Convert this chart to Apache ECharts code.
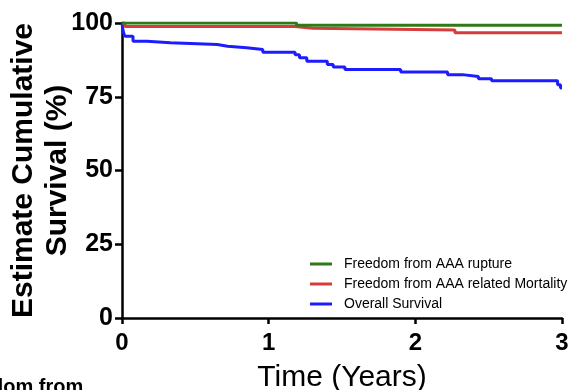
<!DOCTYPE html>
<html>
<head>
<meta charset="utf-8">
<script src="https://cdn.jsdelivr.net/npm/echarts@6/dist/echarts.min.js"></script>
<style>html,body{margin:0;padding:0;background:#fff;}#c{width:572px;height:390px;}</style>
</head>
<body>
<div id="c"></div>
<script>
// Kaplan-Meier style step data: [time (years), survival %]
const ruptureData = [[0,100],[1.19,99.2],[3,99.2]];
const aaaMortalityData = [[0,100],[0.02,98.8],[1.18,98.2],[1.30,97.6],[2.27,96.7],[3,96.7]];
const overallData = [[0,100],[0.005,98],[0.012,96.5],[0.02,95.5],[0.075,93.8],[0.17,93.3],[0.33,92.7],[0.65,92.1],[0.72,91.6],[0.85,91.0],[0.96,90.1],[1.18,89.2],[1.21,88.2],[1.26,87.0],[1.40,85.9],[1.44,85.1],[1.52,84.2],[1.90,83.4],[2.22,82.5],[2.32,81.9],[2.43,81.1],[2.52,80.4],[2.97,79.1],[2.99,78.0],[3,78.0]];
const seriesNames = ['Freedom from AAA rupture','Freedom from AAA related Mortality','Overall Survival'];
const seriesColors = ['#2f7a17','#d63c3c','#1c1cff'];
const xTicks = [0,1,2,3];
const yTicks = [0,25,50,75,100];

const chart = echarts.init(document.getElementById('c'));
const dataList = [ruptureData, aaaMortalityData, overallData];
chart.setOption({
  animation: false,
  grid: {left: 122, right: 10, top: 23, bottom: 72, containLabel: false, outerBoundsMode: 'none'},
  legend: {
    orient: 'vertical',
    left: 310, top: 257, padding: 0,
    itemWidth: 22, itemHeight: 14, itemGap: 6,
    icon: 'path://M0,0H22V3H0Z',
    textStyle: {fontFamily: 'Liberation Sans, Arial', fontSize: 14, color: '#000', padding: [0,0,0,7]},
    data: seriesNames
  },
  xAxis: {
    type: 'value', min: 0, max: 3, interval: 1,
    axisLine: {show: true, lineStyle: {color: '#000', width: 2.5}},
    axisTick: {show: true, length: 6, lineStyle: {color: '#000', width: 2.5}},
    axisLabel: {fontFamily: 'Liberation Sans, Arial', fontWeight: 'bold', fontSize: 24, color: '#000', margin: 13,
      formatter: v => xTicks.includes(v) ? String(v) : ''},
    splitLine: {show: false},
    name: 'Time (Years)', nameLocation: 'middle', nameGap: 45, nameMoveOverlap: false,
    nameTextStyle: {fontFamily: 'Liberation Sans, Arial', fontSize: 30, color: '#000'}
  },
  yAxis: {
    type: 'value', min: 0, max: 100, interval: 25,
    axisLine: {show: true, lineStyle: {color: '#000', width: 2.5}},
    axisTick: {show: true, length: 7, lineStyle: {color: '#000', width: 2.5}},
    axisLabel: {fontFamily: 'Liberation Sans, Arial', fontWeight: 'bold', fontSize: 25, color: '#000', margin: 9,
      formatter: v => yTicks.includes(v) ? String(v) : ''},
    splitLine: {show: false},
    name: 'Estimate Cumulative\nSurvival (%)', nameLocation: 'middle', nameGap: 47, nameRotate: 90, nameMoveOverlap: false,
    nameTextStyle: {fontFamily: 'Liberation Sans, Arial', fontWeight: 'bold', fontSize: 30, color: '#000', lineHeight: 34}
  },
  graphic: [{
    type: 'text', left: -9, top: 377,
    style: {text: 'dom from', font: 'bold 20px "Liberation Sans", Arial', fill: '#000'}
  }],
  series: seriesNames.map((n, i) => ({
    name: n, type: 'line', step: 'end', data: dataList[i],
    showSymbol: false, symbol: 'none',
    lineStyle: {color: seriesColors[i], width: 3},
    itemStyle: {color: seriesColors[i]},
    z: 3 - i
  }))
});
</script>
</body>
</html>
